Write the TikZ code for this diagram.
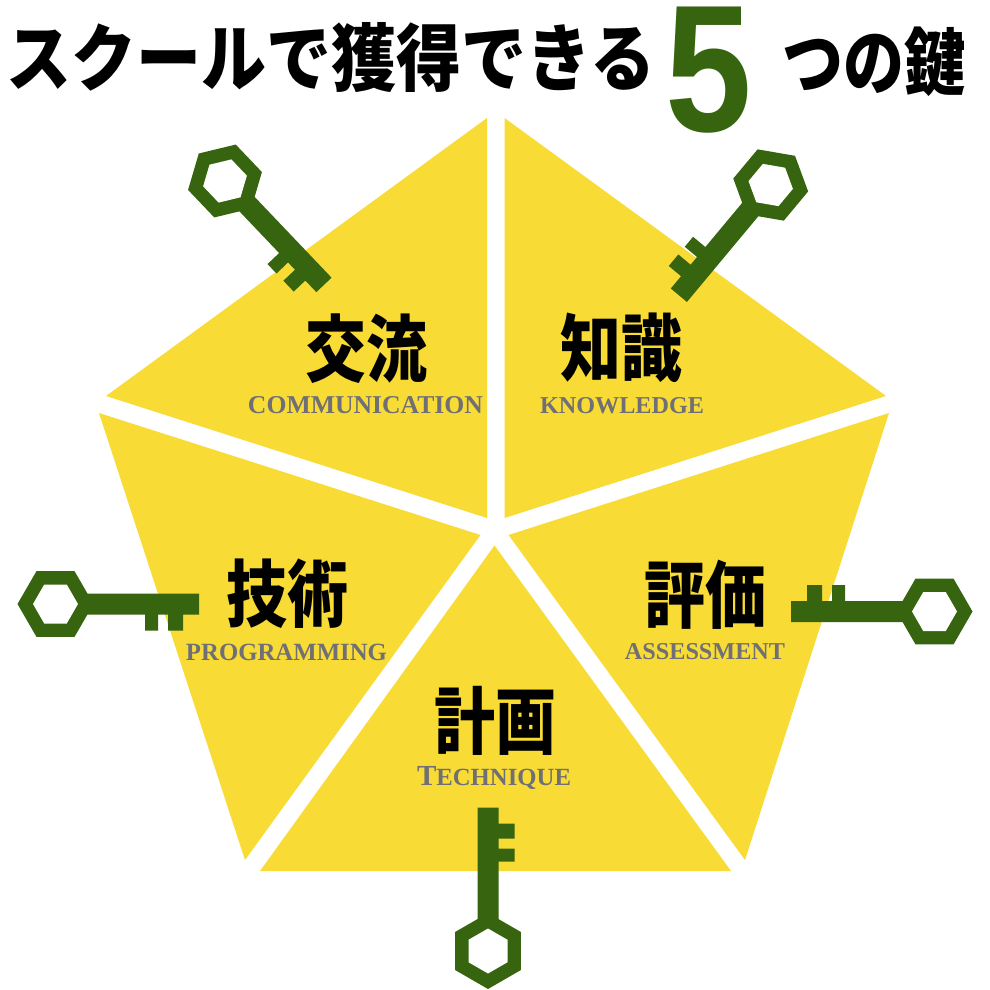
\documentclass[tikz,border=0pt]{standalone}
\usepackage{fontspec}
\newfontfamily\cjkb{Noto Sans CJK JP}
\newfontfamily\digitf{Liberation Sans}
\setmainfont{Liberation Serif}
\definecolor{petal}{HTML}{F8DB35}
\definecolor{keygreen}{HTML}{36640F}
\definecolor{latin}{HTML}{6F6F75}
\newcommand{\keyshape}[3]{%
  \begin{scope}[shift={(#1,#2)},rotate=#3]
    \fill[keygreen] (-10,-10.5) rectangle (143.5,10.5)
      (89.5,0) rectangle (102.5,26.5)
      (112.5,0) rectangle (127.5,26.5);
    \fill[keygreen] (38,0) -- (19,32.9) -- (-19,32.9) -- (-38,0) -- (-19,-32.9) -- (19,-32.9) -- cycle;
    \fill[white] (22.5,0) -- (11.25,19.5) -- (-11.25,19.5) -- (-22.5,0) -- (-11.25,-19.5) -- (11.25,-19.5) -- cycle;
  \end{scope}}
\newcommand{\tallx}[2]{\scalebox{1}[#1]{#2}}
\tikzset{
  petalface/.style={fill=petal},
  kanji/.style={font=\cjkb\bfseries\fontsize{#1}{#1}\selectfont,text=black,inner sep=0pt,anchor=center},
  latintext/.style={font=\bfseries,text=latin,inner sep=0pt,anchor=base}
}
\begin{document}
\begin{tikzpicture}[x=1pt,y=-1pt]
\useasboundingbox (0,0) rectangle (990,990);
\fill[white] (0,0) rectangle (990,990);
\fill[petalface] (487,118) -- (106,396) -- (487,518) -- cycle;
\fill[petalface] (504.5,118) -- (886,396) -- (504.5,518) -- cycle;
\fill[petalface] (889,413) -- (745,860) -- (508.5,535) -- cycle;
\fill[petalface] (99,413) -- (245,860) -- (480.5,535) -- cycle;
\fill[petalface] (494.5,545.5) -- (731,871) -- (260,871) -- cycle;
\keyshape{225}{181}{-46.4}
\keyshape{770.7}{185}{-129.8}
\keyshape{55.5}{604}{0}
\keyshape{934.5}{611.5}{180}
\keyshape{488}{951}{90}
\node[kanji=65] (t1) at (331,58) {\tallx{1.13}{スクールで獲得できる}};
\node[inner sep=0pt,text=keygreen,font=\digitf\bfseries\fontsize{181}{181}\selectfont] (t2) at (708.5,70) {\scalebox{0.86}[1]{5}};
\node[kanji=61] (t3) at (874,62) {\tallx{1.2}{つの鍵}};
\node[kanji=61] (a1) at (366,349) {\tallx{1.2}{交流}};
\node[kanji=61] (a2) at (621,348) {\tallx{1.2}{知識}};
\node[kanji=61] (a3) at (287,594) {\tallx{1.2}{技術}};
\node[kanji=61] (a4) at (705,595) {\tallx{1.2}{評価}};
\node[kanji=61] (a5) at (495,720.5) {\tallx{1.2}{計画}};
\node[latintext] (b1) at (365.5,413) {\resizebox{235pt}{!}{COMMUNICATION}};
\node[latintext] (b2) at (622,413) {\resizebox{164pt}{!}{KNOWLEDGE}};
\node[latintext] (b3) at (286.5,660) {\resizebox{201pt}{!}{PROGRAMMING}};
\node[latintext] (b4) at (705,659) {\resizebox{160pt}{!}{ASSESSMENT}};
\node[latintext] (b5) at (494,785) {\resizebox{154pt}{!}{T{\fontsize{8.5}{8.5}\selectfont ECHNIQUE}}};
\end{tikzpicture}
\end{document}
